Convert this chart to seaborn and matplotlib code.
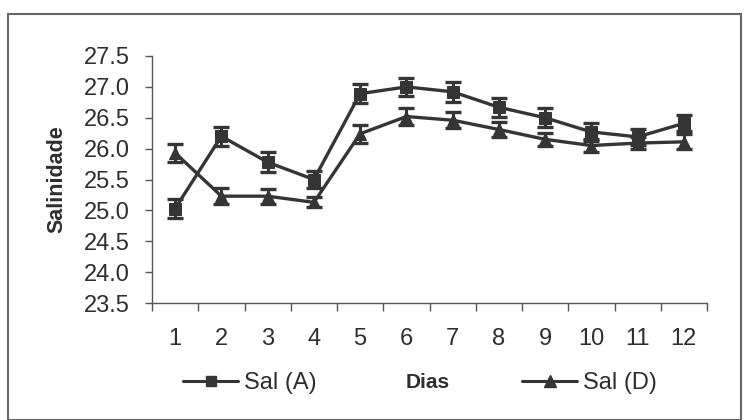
import numpy as np
import pandas as pd
import matplotlib
matplotlib.use("Agg")
import matplotlib.pyplot as plt
import seaborn as sns
from matplotlib.patches import Rectangle
from matplotlib.lines import Line2D

days = list(range(1, 13))
sal_a = [25.03, 26.20, 25.78, 25.50, 26.89, 27.00, 26.92, 26.67, 26.50, 26.27, 26.19, 26.41]
err_a = [0.15, 0.15, 0.16, 0.14, 0.15, 0.15, 0.16, 0.15, 0.15, 0.14, 0.13, 0.13]
sal_d = [25.93, 25.23, 25.23, 25.13, 26.24, 26.52, 26.46, 26.31, 26.15, 26.05, 26.09, 26.11]
err_d = [0.15, 0.13, 0.12, 0.08, 0.15, 0.13, 0.13, 0.12, 0.11, 0.10, 0.10, 0.12]
yticks = [23.5, 24.0, 24.5, 25.0, 25.5, 26.0, 26.5, 27.0, 27.5]

sns.set_style("ticks")
plt.rcParams['font.family'] = ['Liberation Sans', 'DejaVu Sans']

col = '#353535'
tcol = '#2e2e2e'
df = pd.DataFrame({
    'Dias': days * 2,
    'Salinidade': sal_a + sal_d,
    'serie': ['Sal (A)'] * 12 + ['Sal (D)'] * 12,
})

fig = plt.figure(figsize=(7.48, 4.2), dpi=100)
ax = fig.add_axes([152/748, 1-303/420, (707-152)/748, (303-56)/420])

sns.lineplot(data=df, x='Dias', y='Salinidade', hue='serie', style='serie',
             markers={'Sal (A)': 's', 'Sal (D)': '^'}, dashes=False,
             palette={'Sal (A)': col, 'Sal (D)': col}, linewidth=2.4,
             markersize=9, markeredgecolor=col, ax=ax, legend=False)
for s, e in [(sal_a, err_a), (sal_d, err_d)]:
    ax.errorbar(days, s, yerr=e, fmt='none', ecolor=col, elinewidth=2.2,
                capsize=5.5, capthick=2.4, zorder=3)

ax.set_xlim(0.5, 12.5)
ax.set_ylim(23.5, 27.5)
ax.set_yticks(yticks)
ax.set_yticklabels([f"{v:.1f}" for v in yticks], fontsize=17, color=tcol)
ax.set_xticks(np.arange(0.5, 13, 1))
ax.set_xticklabels([])
ax.set_xticks(days, minor=True)
ax.set_xticklabels([str(d) for d in days], minor=True, fontsize=17, color=tcol)
ax.tick_params(axis='x', which='major', direction='out', length=6, width=1, color='#555555')
ax.tick_params(axis='x', which='minor', length=0, pad=18)
ax.tick_params(axis='y', direction='out', length=5, width=1, color='#555555', pad=11)
for sp in ['top', 'right']:
    ax.spines[sp].set_visible(False)
for sp in ['left', 'bottom']:
    ax.spines[sp].set_color('#555555')
    ax.spines[sp].set_linewidth(1)

ax.set_ylabel('Salinidade', fontsize=15.5, fontweight='bold', color=tcol)
ax.yaxis.set_label_coords(-0.152, 0.5)
ax.set_xlabel('Dias', fontsize=15, fontweight='bold', color=tcol)
ax.xaxis.set_label_coords((428-152)/555, -(383-303)/247)
ax.xaxis.label.set_va('center')

h_a = Line2D([], [], color=col, lw=2.2, marker='s', markersize=7)
h_d = Line2D([], [], color=col, lw=2.2, marker='^', markersize=9)
leg1 = fig.legend([h_a], ['Sal (A)'], loc='center left', bbox_to_anchor=(183/748, 1-383/420),
                  frameon=False, fontsize=17, handlelength=2.35, handletextpad=0.25,
                  borderaxespad=0, borderpad=0)
leg2 = fig.legend([h_d], ['Sal (D)'], loc='center left', bbox_to_anchor=(522/748, 1-383/420),
                  frameon=False, fontsize=17, handlelength=2.35, handletextpad=0.25,
                  borderaxespad=0, borderpad=0)
for lg in (leg1, leg2):
    for t in lg.get_texts():
        t.set_color(tcol)

fig.patches.append(Rectangle((8/748, 0.0), (741-8)/748, 1-14/420, transform=fig.transFigure,
                             fill=False, edgecolor='#666666', linewidth=1.5))

fig.savefig('out.png', dpi=100)
